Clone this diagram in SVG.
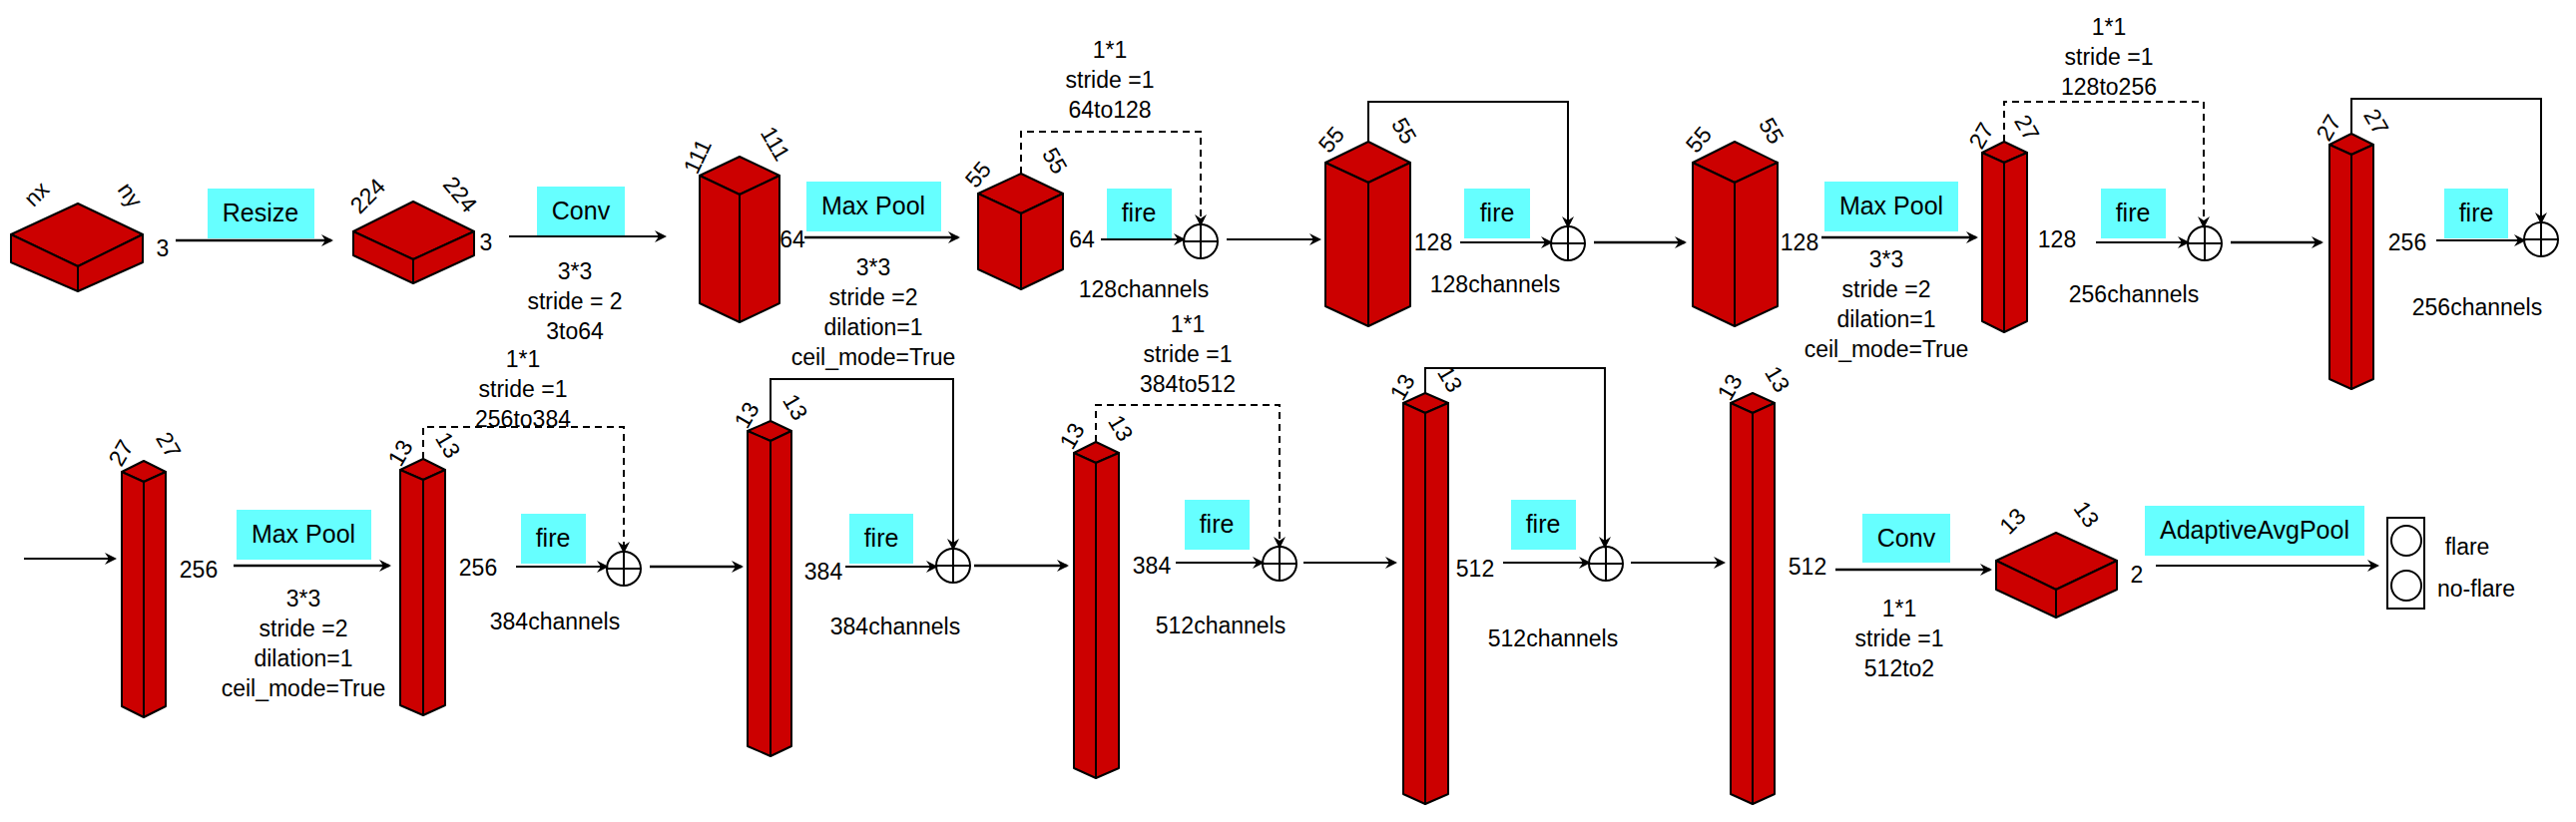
<svg xmlns="http://www.w3.org/2000/svg" width="2581" height="824" viewBox="0 0 2581 824">
<style>
.f{fill:#CC0000;stroke:#000;stroke-width:2;stroke-linejoin:round}
.t{font-family:"Liberation Sans",Arial,sans-serif;font-size:23px;fill:#000;text-anchor:middle}
.b{fill:#66FFFF}
.bt{font-family:"Liberation Sans",Arial,sans-serif;font-size:25px;fill:#000;text-anchor:middle}
.a{stroke:#000;stroke-width:2.5;fill:none;marker-end:url(#ar)}
.s{stroke:#000;stroke-width:2;fill:none;marker-end:url(#ar)}
.d{stroke:#000;stroke-width:2;fill:none;stroke-dasharray:7,5;marker-end:url(#ar)}
.o{fill:#fff;stroke:#000;stroke-width:2}
</style>
<defs>
<marker id="ar" markerWidth="12" markerHeight="12" refX="10" refY="6" orient="auto" markerUnits="userSpaceOnUse"><path d="M0,0 L12,6 L0,12 L4,6 Z" fill="#000"/></marker>
</defs>
<rect width="2581" height="824" fill="#fff"/>

<!-- nodes -->
<g id="c1"><polygon class="f" points="78,204 11,235 78,267 143,235"/><polygon class="f" points="11,235 78,267 78,292 11,263"/><polygon class="f" points="78,267 143,235 143,263 78,292"/>
<text class="t" transform="translate(42,200) rotate(-45)">nx</text><text class="t" transform="translate(124,200) rotate(55)">ny</text><text class="t" x="163" y="257">3</text></g>
<g id="c2"><polygon class="f" points="414,202 354,232 414,260 475,232"/><polygon class="f" points="354,232 414,260 414,284 354,256"/><polygon class="f" points="414,260 475,232 475,256 414,284"/>
<text class="t" transform="translate(374,202) rotate(-45)">224</text><text class="t" transform="translate(455,200) rotate(50)">224</text><text class="t" x="487" y="251">3</text></g>
<g id="c3"><polygon class="f" points="741,157 701,176 741,195 781,176"/><polygon class="f" points="701,176 741,195 741,323 701,304"/><polygon class="f" points="741,195 781,176 781,304 741,323"/>
<text class="t" transform="translate(706,160) rotate(-65)">111</text><text class="t" transform="translate(770,148) rotate(60)">111</text></g>
<g id="c4"><polygon class="f" points="1023,174 980,194 1023,214 1065,194"/><polygon class="f" points="980,194 1023,214 1023,290 980,270"/><polygon class="f" points="1023,214 1065,194 1065,270 1023,290"/>
<text class="t" transform="translate(986,180) rotate(-50)">55</text><text class="t" transform="translate(1050,165) rotate(60)">55</text></g>
<g id="c5"><polygon class="f" points="1371,142 1328,163 1371,183 1413,163"/><polygon class="f" points="1328,163 1371,183 1371,327 1328,307"/><polygon class="f" points="1371,183 1413,163 1413,307 1371,327"/>
<text class="t" transform="translate(1340,145) rotate(-50)">55</text><text class="t" transform="translate(1400,135) rotate(60)">55</text></g>
<g id="c6"><polygon class="f" points="1738,142 1696,163 1738,183 1781,163"/><polygon class="f" points="1696,163 1738,183 1738,327 1696,307"/><polygon class="f" points="1738,183 1781,163 1781,307 1738,327"/>
<text class="t" transform="translate(1708,145) rotate(-50)">55</text><text class="t" transform="translate(1768,135) rotate(60)">55</text></g>
<g id="c7"><polygon class="f" points="2008,142 1986,153 2008,163 2031,153"/><polygon class="f" points="1986,153 2008,163 2008,333 1986,322"/><polygon class="f" points="2008,163 2031,153 2031,322 2008,333"/>
<text class="t" transform="translate(1992,140) rotate(-60)">27</text><text class="t" transform="translate(2024,132) rotate(60)">27</text></g>
<g id="c8"><polygon class="f" points="2356,134 2334,145 2356,155 2378,145"/><polygon class="f" points="2334,145 2356,155 2356,390 2334,380"/><polygon class="f" points="2356,155 2378,145 2378,380 2356,390"/>
<text class="t" transform="translate(2340,132) rotate(-60)">27</text><text class="t" transform="translate(2374,126) rotate(60)">27</text></g>
<g id="b1"><polygon class="f" points="144,462 122,473 144,483 166,473"/><polygon class="f" points="122,473 144,483 144,719 122,708"/><polygon class="f" points="144,483 166,473 166,708 144,719"/>
<text class="t" transform="translate(128,458) rotate(-60)">27</text><text class="t" transform="translate(162,450) rotate(60)">27</text></g>
<g id="b2"><polygon class="f" points="424,460 401,471 424,481 446,471"/><polygon class="f" points="401,471 424,481 424,717 401,707"/><polygon class="f" points="424,481 446,471 446,707 424,717"/>
<text class="t" transform="translate(408,458) rotate(-60)">13</text><text class="t" transform="translate(442,450) rotate(60)">13</text></g>
<g id="b3"><polygon class="f" points="772,422 749,432 772,442 793,432"/><polygon class="f" points="749,432 772,442 772,758 749,748"/><polygon class="f" points="772,442 793,432 793,748 772,758"/>
<text class="t" transform="translate(755,420) rotate(-60)">13</text><text class="t" transform="translate(790,412) rotate(60)">13</text></g>
<g id="b4"><polygon class="f" points="1098,443 1076,454 1098,464 1121,454"/><polygon class="f" points="1076,454 1098,464 1098,780 1076,770"/><polygon class="f" points="1098,464 1121,454 1121,770 1098,780"/>
<text class="t" transform="translate(1081,441) rotate(-60)">13</text><text class="t" transform="translate(1116,433) rotate(60)">13</text></g>
<g id="b5"><polygon class="f" points="1428,394 1406,404 1428,414 1451,404"/><polygon class="f" points="1406,404 1428,414 1428,806 1406,796"/><polygon class="f" points="1428,414 1451,404 1451,796 1428,806"/>
<text class="t" transform="translate(1412,392) rotate(-60)">13</text><text class="t" transform="translate(1446,384) rotate(60)">13</text></g>
<g id="b6"><polygon class="f" points="1756,394 1734,404 1756,414 1778,404"/><polygon class="f" points="1734,404 1756,414 1756,806 1734,796"/><polygon class="f" points="1756,414 1778,404 1778,796 1756,806"/>
<text class="t" transform="translate(1740,392) rotate(-60)">13</text><text class="t" transform="translate(1774,384) rotate(60)">13</text></g>
<g id="b7"><polygon class="f" points="2060,534 2000,562 2060,591 2121,562"/><polygon class="f" points="2000,562 2060,591 2060,619 2000,591"/><polygon class="f" points="2060,591 2121,562 2121,591 2060,619"/>
<text class="t" transform="translate(2022,528) rotate(-45)">13</text><text class="t" transform="translate(2084,520) rotate(55)">13</text><text class="t" x="2141" y="584">2</text></g>
<g id="out"><rect x="2392" y="519" width="37" height="91" fill="#fff" stroke="#000" stroke-width="2"/><ellipse cx="2411" cy="542" rx="15" ry="15" fill="none" stroke="#000" stroke-width="2"/><ellipse cx="2411" cy="587" rx="15" ry="15" fill="none" stroke="#000" stroke-width="2"/>
<text class="t" x="2472" y="556">flare</text><text class="t" x="2481" y="598">no-flare</text></g>

<!-- op boxes -->
<g id="ops">
<rect class="b" x="208" y="189" width="107" height="50"/><text class="bt" x="261" y="222">Resize</text>
<rect class="b" x="538" y="187" width="88" height="50"/><text class="bt" x="582" y="220">Conv</text>
<rect class="b" x="808" y="182" width="135" height="50"/><text class="bt" x="875" y="215">Max Pool</text>
<rect class="b" x="1109" y="189" width="65" height="50"/><text class="bt" x="1141" y="222">fire</text>
<rect class="b" x="1467" y="189" width="66" height="50"/><text class="bt" x="1500" y="222">fire</text>
<rect class="b" x="1828" y="182" width="134" height="50"/><text class="bt" x="1895" y="215">Max Pool</text>
<rect class="b" x="2105" y="189" width="65" height="50"/><text class="bt" x="2137" y="222">fire</text>
<rect class="b" x="2449" y="189" width="64" height="50"/><text class="bt" x="2481" y="222">fire</text>
<rect class="b" x="237" y="511" width="135" height="50"/><text class="bt" x="304" y="544">Max Pool</text>
<rect class="b" x="522" y="515" width="65" height="50"/><text class="bt" x="554" y="548">fire</text>
<rect class="b" x="851" y="515" width="64" height="50"/><text class="bt" x="883" y="548">fire</text>
<rect class="b" x="1187" y="501" width="65" height="50"/><text class="bt" x="1219" y="534">fire</text>
<rect class="b" x="1514" y="501" width="65" height="50"/><text class="bt" x="1546" y="534">fire</text>
<rect class="b" x="1866" y="515" width="88" height="49"/><text class="bt" x="1910" y="548">Conv</text>
<rect class="b" x="2149" y="507" width="220" height="50"/><text class="bt" x="2259" y="540">AdaptiveAvgPool</text>
</g>

<!-- sum nodes -->
<g id="sums">
<g id="s1"><circle class="o" cx="1203" cy="242" r="17"/><path d="M1186,242H1220M1203,225V259" stroke="#000" stroke-width="2"/></g>
<g id="s2"><circle class="o" cx="1571" cy="244" r="17"/><path d="M1554,244H1588M1571,227V261" stroke="#000" stroke-width="2"/></g>
<g id="s3"><circle class="o" cx="2209" cy="244" r="17"/><path d="M2192,244H2226M2209,227V261" stroke="#000" stroke-width="2"/></g>
<g id="s4"><circle class="o" cx="2546" cy="240" r="17"/><path d="M2529,240H2563M2546,223V257" stroke="#000" stroke-width="2"/></g>
<g id="s5"><circle class="o" cx="625" cy="570" r="17"/><path d="M608,570H642M625,553V587" stroke="#000" stroke-width="2"/></g>
<g id="s6"><circle class="o" cx="955" cy="567" r="17"/><path d="M938,567H972M955,550V584" stroke="#000" stroke-width="2"/></g>
<g id="s7"><circle class="o" cx="1282" cy="565" r="17"/><path d="M1265,565H1299M1282,548V582" stroke="#000" stroke-width="2"/></g>
<g id="s8"><circle class="o" cx="1609" cy="565" r="17"/><path d="M1592,565H1626M1609,548V582" stroke="#000" stroke-width="2"/></g>
</g>

<!-- connectors -->
<g id="connectors">
<line class="a" x1="176" y1="241" x2="332" y2="241"/>
<line class="s" x1="510" y1="237" x2="666" y2="237"/>
<line class="a" x1="806" y1="238" x2="960" y2="238"/>
<line class="s" x1="1103" y1="240" x2="1186" y2="240"/>
<line class="s" x1="1229" y1="240" x2="1322" y2="240"/>
<line class="s" x1="1463" y1="243" x2="1554" y2="243"/>
<line class="a" x1="1597" y1="243" x2="1688" y2="243"/>
<line class="a" x1="1825" y1="238" x2="1980" y2="238"/>
<line class="s" x1="2100" y1="243" x2="2192" y2="243"/>
<line class="a" x1="2235" y1="243" x2="2326" y2="243"/>
<line class="s" x1="2441" y1="241" x2="2529" y2="241"/>
<line class="s" x1="24" y1="560" x2="115" y2="560"/>
<line class="a" x1="234" y1="567" x2="390" y2="567"/>
<line class="s" x1="517" y1="568" x2="608" y2="568"/>
<line class="a" x1="651" y1="568" x2="743" y2="568"/>
<line class="s" x1="847" y1="568" x2="938" y2="568"/>
<line class="a" x1="976" y1="567" x2="1069" y2="567"/>
<line class="s" x1="1178" y1="564" x2="1265" y2="564"/>
<line class="s" x1="1306" y1="564" x2="1398" y2="564"/>
<line class="s" x1="1506" y1="564" x2="1592" y2="564"/>
<line class="s" x1="1634" y1="564" x2="1727" y2="564"/>
<line class="a" x1="1839" y1="571" x2="1994" y2="571"/>
<line class="s" x1="2160" y1="567" x2="2382" y2="567"/>
<polyline class="d" points="1023,174 1023,132 1203,132 1203,225"/>
<polyline class="s" points="1371,142 1371,102 1571,102 1571,227"/>
<polyline class="d" points="2008,142 2008,102 2208,102 2208,227"/>
<polyline class="s" points="2356,134 2356,99 2546,99 2546,223"/>
<polyline class="d" points="424,460 424,428 625,428 625,553"/>
<polyline class="s" points="772,422 772,380 955,380 955,550"/>
<polyline class="d" points="1098,443 1098,406 1282,406 1282,548"/>
<polyline class="s" points="1428,394 1428,369 1608,369 1608,548"/>
</g>

<!-- labels -->
<g id="labels">
<text class="t" x="576" y="280">3*3</text><text class="t" x="576" y="310">stride = 2</text><text class="t" x="576" y="340">3to64</text>
<text class="t" x="794" y="248">64</text>
<text class="t" x="875" y="276">3*3</text><text class="t" x="875" y="306">stride =2</text><text class="t" x="875" y="336">dilation=1</text><text class="t" x="875" y="366">ceil_mode=True</text>
<text class="t" x="1112" y="58">1*1</text><text class="t" x="1112" y="88">stride =1</text><text class="t" x="1112" y="118">64to128</text>
<text class="t" x="1084" y="248">64</text><text class="t" x="1146" y="298">128channels</text>
<text class="t" x="1436" y="251">128</text><text class="t" x="1498" y="293">128channels</text>
<text class="t" x="1803" y="251">128</text>
<text class="t" x="1890" y="268">3*3</text><text class="t" x="1890" y="298">stride =2</text><text class="t" x="1890" y="328">dilation=1</text><text class="t" x="1890" y="358">ceil_mode=True</text>
<text class="t" x="2113" y="35">1*1</text><text class="t" x="2113" y="65">stride =1</text><text class="t" x="2113" y="95">128to256</text>
<text class="t" x="2061" y="248">128</text><text class="t" x="2138" y="303">256channels</text>
<text class="t" x="2412" y="251">256</text><text class="t" x="2482" y="316">256channels</text>
<text class="t" x="199" y="579">256</text>
<text class="t" x="304" y="608">3*3</text><text class="t" x="304" y="638">stride =2</text><text class="t" x="304" y="668">dilation=1</text><text class="t" x="304" y="698">ceil_mode=True</text>
<text class="t" x="524" y="368">1*1</text><text class="t" x="524" y="398">stride =1</text><text class="t" x="524" y="428">256to384</text>
<text class="t" x="479" y="577">256</text><text class="t" x="556" y="631">384channels</text>
<text class="t" x="825" y="581">384</text><text class="t" x="897" y="636">384channels</text>
<text class="t" x="1190" y="333">1*1</text><text class="t" x="1190" y="363">stride =1</text><text class="t" x="1190" y="393">384to512</text>
<text class="t" x="1154" y="575">384</text><text class="t" x="1223" y="635">512channels</text>
<text class="t" x="1478" y="578">512</text><text class="t" x="1556" y="648">512channels</text>
<text class="t" x="1811" y="576">512</text>
<text class="t" x="1903" y="618">1*1</text><text class="t" x="1903" y="648">stride =1</text><text class="t" x="1903" y="678">512to2</text>
</g>
</svg>
